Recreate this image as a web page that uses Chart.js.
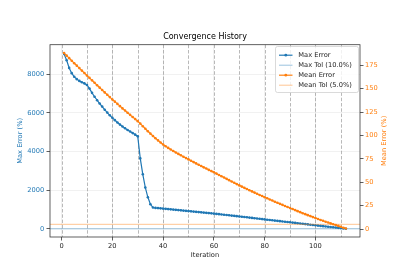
<!DOCTYPE html>
<html><head><meta charset="utf-8">
<script src="https://cdn.jsdelivr.net/npm/chart.js@4"></script>
<style>html,body{margin:0;padding:0;background:#fff}#wrap{width:400px;height:280px}</style>
</head><body><div id="wrap"><canvas id="c" width="400" height="280"></canvas></div>
<script>
// ---- data ----
const iterations = [1,2,3,4,5,6,7,8,9,10,11,12,13,14,15,16,17,18,19,20,21,22,23,24,25,26,27,28,29,30,
31,32,33,34,35,36,37,38,39,40,41,42,43,44,45,46,47,48,49,50,51,52,53,54,55,56,57,58,59,60,
61,62,63,64,65,66,67,68,69,70,71,72,73,74,75,76,77,78,79,80,81,82,83,84,85,86,87,88,89,90,
91,92,93,94,95,96,97,98,99,100,101,102,103,104,105,106,107,108,109,110,111,112];
const maxError = [9050,8730,8330,8060,7870,7750,7660,7590,7530,7450,7260,7040,6840,6660,6490,6330,6170,6020,5880,5750,
5630,5510,5400,5300,5210,5120,5040,4960,4880,4800,3650,2830,2140,1640,1280,1110,1092,1080,1068,1055,
1042,1029,1016,1003,990,977,964,951,938,925,912,899,886,873,860,847,834,821,808,795,
781,767,752,738,723,709,694,680,665,650,635,620,605,590,574,558,542,527,511,495,
480,465,450,435,420,405,390,375,360,345,330,314,299,283,268,252,237,221,206,190,
176,161,147,132,118,103,89,74,60,45,30,15];
const meanError = [188.0,185.3,182.6,179.9,177.2,174.6,172.0,169.3,166.7,164.1,161.5,158.9,156.3,153.7,151.1,148.6,146.0,143.5,141.0,138.5,
136.1,133.7,131.3,128.9,126.6,124.3,122.0,119.7,117.5,115.3,112.6,109.9,107.2,104.5,101.9,99.4,97.0,94.7,92.5,90.4,
88.5,86.7,85.0,83.4,81.8,80.3,78.8,77.3,75.8,74.4,72.9,71.5,70.1,68.7,67.3,65.9,64.6,63.2,61.9,60.6,
59.2,57.8,56.4,55.0,53.6,52.2,50.8,49.4,48.0,46.6,45.3,44.0,42.7,41.4,40.2,38.9,37.7,36.4,35.2,34.0,
32.8,31.6,30.4,29.2,28.1,26.9,25.8,24.6,23.5,22.4,21.3,20.2,19.1,18.0,16.9,15.9,14.8,13.8,12.7,11.7,
10.7,9.7,8.8,7.8,6.9,6.0,5.1,4.2,3.3,2.4,1.4,0.5];
const maxTol = 10.0;
const meanTol = 5.0;
const restartIters = [0,10,20,30,40,50,60,70,80,90,100,110];
const xTickValues = [0,20,40,60,80,100];
const yTickValues = [0,2000,4000,6000,8000];
const y2TickValues = [0,25,50,75,100,125,150,175];
const legendLabels = ['Max Error','Max Tol (10.0%)','Mean Error','Mean Tol (5.0%)'];

// ---- axis limits / styles ----
const X_MIN = -4.55, X_MAX = 117.55;
const Y_MIN = -414, Y_MAX = 9531;
const Y2_MIN = -8.55, Y2_MAX = 197.0;
const BLUE = '#1f77b4', ORANGE = '#ff7f0e';
const BLUE_L = 'rgba(31,119,180,0.45)', ORANGE_L = 'rgba(255,127,14,0.45)';
const FONT = 'DejaVu Sans';
const FS = 6.7;

const pts = (xs, ys) => xs.map((x, i) => ({x, y: ys[i]}));
const setTicks = vals => s => { s.ticks = vals.map(v => ({value: v})); };

const extras = {
  id: 'extras',
  beforeDatasetsDraw(chart) {
    const {ctx, chartArea: a, scales: {x}} = chart;
    ctx.save();
    ctx.strokeStyle = 'rgba(128,128,128,0.55)';
    ctx.lineWidth = 1;
    ctx.setLineDash([3.5, 1.8]);
    restartIters.forEach(v => {
      const px = Math.round(x.getPixelForValue(v)) + 0.5;
      ctx.beginPath(); ctx.moveTo(px, a.top); ctx.lineTo(px, a.bottom); ctx.stroke();
    });
    ctx.restore();
  },
  afterDatasetsDraw(chart) {
    const {ctx, chartArea: a} = chart;
    ctx.save();
    ctx.strokeStyle = '#3a3a3a';
    ctx.lineWidth = 0.8;
    ctx.strokeRect(a.left, a.top, a.right - a.left, a.bottom - a.top);
    ctx.restore();
  },
  afterDraw(chart) {
    const {ctx, chartArea: a} = chart;
    ctx.save();
    // right axis title
    ctx.translate(384.3, (a.top + a.bottom) / 2);
    ctx.rotate(-Math.PI / 2);
    ctx.fillStyle = ORANGE;
    ctx.font = FS + 'px "' + FONT + '"';
    ctx.textAlign = 'center';
    ctx.textBaseline = 'middle';
    ctx.fillText('Mean Error (%)', 0, 0);
    ctx.restore();

    // legend
    ctx.save();
    const bx = 275.5, by = 46.5, bw = 83, bh = 46, r = 2;
    ctx.beginPath();
    ctx.moveTo(bx + r, by); ctx.lineTo(bx + bw - r, by); ctx.arcTo(bx + bw, by, bx + bw, by + r, r);
    ctx.lineTo(bx + bw, by + bh - r); ctx.arcTo(bx + bw, by + bh, bx + bw - r, by + bh, r);
    ctx.lineTo(bx + r, by + bh); ctx.arcTo(bx, by + bh, bx, by + bh - r, r);
    ctx.lineTo(bx, by + r); ctx.arcTo(bx, by, bx + r, by, r); ctx.closePath();
    ctx.fillStyle = 'rgba(255,255,255,0.8)';
    ctx.fill();
    ctx.strokeStyle = 'rgba(204,204,204,0.9)';
    ctx.lineWidth = 0.8;
    ctx.stroke();
    const cols = [BLUE, BLUE_L, ORANGE, ORANGE_L];
    const marks = [true, false, true, false];
    ctx.font = FS + 'px "' + FONT + '"';
    ctx.textBaseline = 'middle';
    ctx.textAlign = 'left';
    legendLabels.forEach((t, i) => {
      const y = 55.2 + i * 10;
      ctx.strokeStyle = cols[i];
      ctx.lineWidth = marks[i] ? 1.2 : 1.0;
      ctx.beginPath(); ctx.moveTo(279, y); ctx.lineTo(292.5, y); ctx.stroke();
      if (marks[i]) {
        ctx.fillStyle = cols[i];
        ctx.beginPath(); ctx.arc(285.8, y, 1.4, 0, Math.PI * 2); ctx.fill();
      }
      ctx.fillStyle = '#222';
      ctx.fillText(t, 298.3, y);
    });
    ctx.restore();
  }
};

new Chart(document.getElementById('c'), {
  type: 'line',
  data: {
    datasets: [
      {label: legendLabels[0], data: pts(iterations, maxError), yAxisID: 'y', borderColor: BLUE, backgroundColor: BLUE,
       borderWidth: 1.2, pointRadius: 1.3, pointBorderWidth: 0, order: 4},
      {label: legendLabels[1], data: [{x: X_MIN, y: maxTol}, {x: X_MAX, y: maxTol}], yAxisID: 'y', borderColor: BLUE_L,
       borderWidth: 1.0, pointRadius: 0, order: 3},
      {label: legendLabels[2], data: pts(iterations, meanError), yAxisID: 'y2', borderColor: ORANGE, backgroundColor: ORANGE,
       borderWidth: 1.2, pointRadius: 1.3, pointBorderWidth: 0, order: 2},
      {label: legendLabels[3], data: [{x: X_MIN, y: meanTol}, {x: X_MAX, y: meanTol}], yAxisID: 'y2', borderColor: ORANGE_L,
       borderWidth: 1.0, pointRadius: 0, order: 1}
    ]
  },
  options: {
    responsive: false,
    animation: false,
    devicePixelRatio: 1,
    layout: {padding: 0},
    plugins: {
      legend: {display: false},
      tooltip: {enabled: false},
      title: {display: true, text: 'Convergence History', fullSize: false, color: '#000',
              font: {family: FONT, size: 8, weight: 'normal', lineHeight: 1.2},
              padding: {top: 32.5, bottom: 2.6}}
    },
    scales: {
      x: {
        type: 'linear', min: X_MIN, max: X_MAX,
        afterBuildTicks: setTicks(xTickValues),
        afterFit: s => { s.height = 43; },
        border: {display: false},
        grid: {color: 'rgba(0,0,0,0.07)', tickColor: '#333', tickLength: 3.5, lineWidth: 0.8},
        ticks: {color: '#222', padding: 2, maxRotation: 0, autoSkip: false,
                font: {family: FONT, size: FS}, callback: v => String(v)},
        title: {display: true, text: 'Iteration', color: '#222', font: {family: FONT, size: FS},
                padding: {top: 0, bottom: 21}}
      },
      y: {
        type: 'linear', position: 'left', min: Y_MIN, max: Y_MAX,
        afterBuildTicks: setTicks(yTickValues),
        afterFit: s => { s.width = 50; },
        border: {display: false},
        grid: {color: 'rgba(0,0,0,0.07)', tickColor: '#333', tickLength: 3.5, lineWidth: 0.8},
        ticks: {color: BLUE, padding: 2.2, autoSkip: false,
                font: {family: FONT, size: FS}, callback: v => String(v)},
        title: {display: true, text: 'Max Error (%)', color: BLUE, font: {family: FONT, size: FS},
                padding: {top: 16.7, bottom: 0}}
      },
      y2: {
        type: 'linear', position: 'right', min: Y2_MIN, max: Y2_MAX,
        afterBuildTicks: setTicks(y2TickValues),
        afterFit: s => { s.width = 40; },
        border: {display: false},
        grid: {drawOnChartArea: false, tickColor: '#333', tickLength: 3.5, lineWidth: 0.8},
        ticks: {color: ORANGE, padding: 1.5, autoSkip: false,
                font: {family: FONT, size: FS}, callback: v => String(v)}
      }
    }
  },
  plugins: [extras]
});
</script>
</body></html>
